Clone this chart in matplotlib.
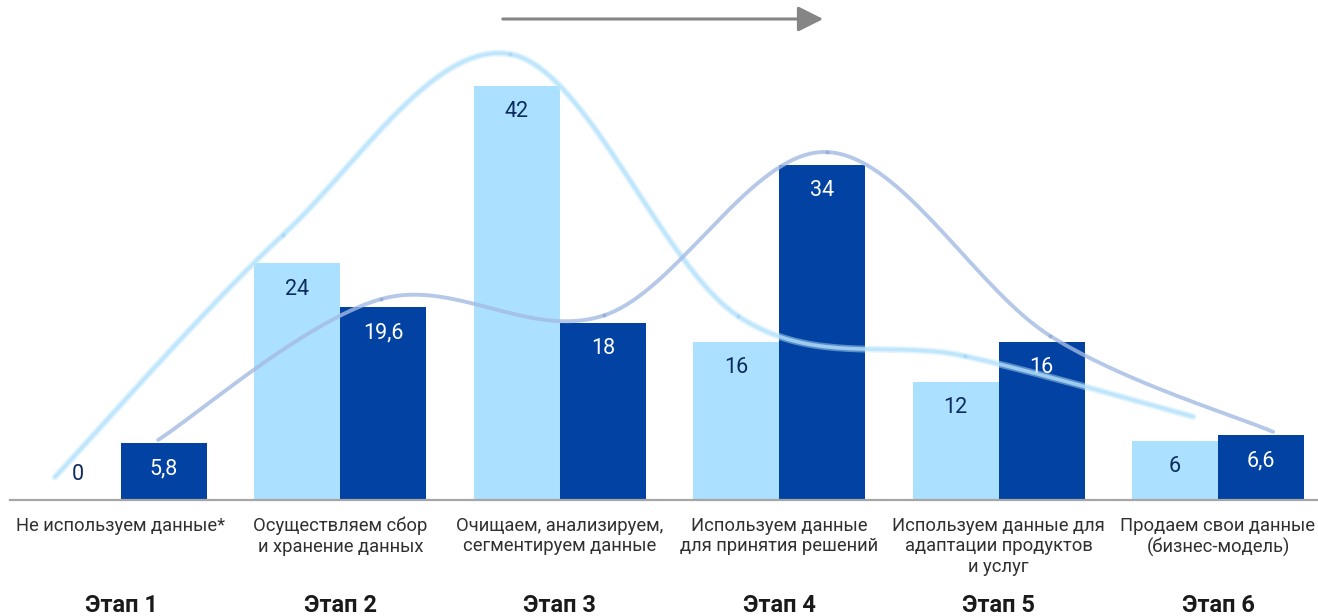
import numpy as np
import matplotlib
matplotlib.use('Agg')
import matplotlib.pyplot as plt

plt.rcParams['font.family'] = ['Roboto', 'DejaVu Sans']

# Данные
stages = ['Этап 1', 'Этап 2', 'Этап 3', 'Этап 4', 'Этап 5', 'Этап 6']
categories = ['Не используем данные*',
              'Осуществляем сбор\nи хранение данных',
              'Очищаем, анализируем,\nсегментируем данные',
              'Используем данные\nдля принятия решений',
              'Используем данные для\nадаптации продуктов\nи услуг',
              'Продаем свои данные\n(бизнес-модель)']
light_vals = [0, 24, 42, 16, 12, 6]
dark_vals = [5.8, 19.6, 18, 34, 16, 6.6]
light_lbl = ['0', '24', '42', '16', '12', '6']
dark_lbl = ['5,8', '19,6', '18', '34', '16', '6,6']

LIGHT = '#abe1fe'
DARK = '#0142a3'
NAVY = '#0d2b5e'

W, H = 1318, 616
PX_X = 219.4      # пикселей на одну категорию
PX_Y = 9.857      # пикселей на единицу значения
BASE = 500        # положение оси, пикс. сверху

fig = plt.figure(figsize=(W / 100, H / 100), dpi=100)
ax = fig.add_axes([10 / W, (H - BASE) / H, 1 - 10 / W, BASE / H])
ax.set_xlim(-111 / PX_X, (W - 121) / PX_X)
ax.set_ylim(0, BASE / PX_Y)
for s in ['top', 'right', 'left']:
    ax.spines[s].set_visible(False)
ax.spines['bottom'].set_color('#a6a6a6')
ax.spines['bottom'].set_linewidth(1.6)
ax.set_xticks([])
ax.set_yticks([])

x = np.arange(len(stages))
bw = 86 / PX_X
ax.bar(x - bw / 2, light_vals, width=bw, color=LIGHT, zorder=2)
ax.bar(x + bw / 2, dark_vals, width=bw, color=DARK, zorder=2)

for i in range(len(stages)):
    for v, t, xo, c in [(light_vals[i], light_lbl[i], -bw / 2, NAVY),
                        (dark_vals[i], dark_lbl[i], bw / 2, 'white')]:
        off = -18.5 if v > 0 else 18
        ax.annotate(t, xy=(i + xo, v), xytext=(0, off), textcoords='offset points',
                    ha='center', va='center', fontsize=15.5, color=c, zorder=3)
    ax.annotate(categories[i], xy=(i, 0), xytext=(0, -12), textcoords='offset points',
                ha='center', va='top', fontsize=13.2, color='#303030',
                linespacing=1.2, annotation_clip=False)
    ax.annotate(stages[i], xy=(i, 0), xytext=(0, -76), textcoords='offset points',
                ha='center', va='center', fontsize=17, fontweight='bold',
                color='#1a1a1a', annotation_clip=False)


# сглаженная линия (как в Excel) через точки
def smooth(px, py, n=40):
    P = np.column_stack([np.asarray(px) * PX_X, np.asarray(py) * PX_Y])
    P = np.vstack([P[0], P, P[-1]])
    out = []
    for k in range(1, len(P) - 2):
        p0, p1, p2, p3 = P[k - 1], P[k], P[k + 1], P[k + 2]
        c1 = p1 + (p2 - p0) / 6
        c2 = p2 - (p3 - p1) / 6
        t = np.linspace(0, 1, n)[:, None]
        out.append((1 - t) ** 3 * p1 + 3 * (1 - t) ** 2 * t * c1
                   + 3 * (1 - t) * t ** 2 * c2 + t ** 3 * p2)
    out = np.vstack(out)
    return out[:, 0] / PX_X, out[:, 1] / PX_Y


lx = -0.301 + 1.0374 * x
ly = 2.33 + 1.0216 * np.array(light_vals)
dx = 0.169 + 1.0164 * x
dy = 0.08 + 1.036 * np.array(dark_vals)

sx, sy = smooth(lx, ly)
ax.plot(sx, sy, color='#c2e8fd', lw=5, alpha=0.45, zorder=4, solid_capstyle='round')
ax.plot(sx, sy, color='#b5e2fc', lw=2.6, alpha=0.75, zorder=4, solid_capstyle='round')
ax.plot(lx[1:-1], ly[1:-1], 'o', ms=2, color='#9dd6f7', alpha=0.6, zorder=5)

sx, sy = smooth(dx, dy)
ax.plot(sx, sy, color='#a4bbe3', lw=2.8, alpha=0.8, zorder=4, solid_capstyle='round')
ax.plot(dx[1:-1], dy[1:-1], 'o', ms=2, color='#8aa7da', alpha=0.6, zorder=5)

# стрелка вверху
fig.patches.append(matplotlib.patches.FancyArrowPatch(
    (500 / W, 1 - 19 / H), (826 / W, 1 - 19 / H), transform=fig.transFigure,
    arrowstyle='-|>,head_length=1.1,head_width=0.55', mutation_scale=14,
    color='#858585', lw=2.2))

fig.savefig('out.png', dpi=100)
